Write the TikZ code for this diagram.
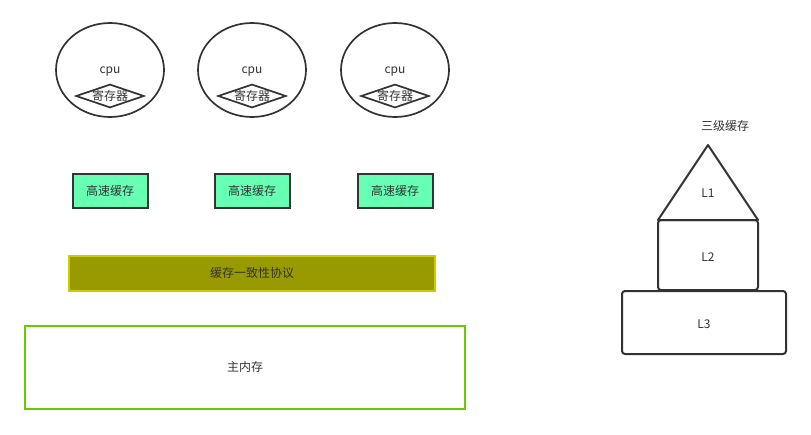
\documentclass[tikz,border=0pt]{standalone}
\usepackage{fontspec}
\setmainfont{Noto Sans CJK SC}
\usetikzlibrary{positioning, shapes.geometric}
\definecolor{txtGray}{RGB}{51, 51, 51}
\definecolor{cacheFill}{RGB}{102, 255, 179}
\definecolor{busFill}{RGB}{153, 153, 0}
\definecolor{busLine}{RGB}{204, 204, 0}
\definecolor{memLine}{RGB}{102, 204, 0}

\begin{document}
\begin{tikzpicture}[x=1pt, y=-1pt,
      every node/.style={font=\fontsize{12}{14}\selectfont, text=txtGray},
      core/.style={draw=txtGray, line width=1.7pt, ellipse, minimum width=108pt, minimum height=94pt},
      reg/.style={draw=txtGray, line width=1.7pt, diamond, aspect=2.9, inner sep=0pt,
                  minimum width=64pt, minimum height=23pt},
      cache/.style={draw=txtGray, line width=2pt, fill=cacheFill, minimum width=75pt, minimum height=34pt},
      level/.style={draw=txtGray, line width=2pt, rounded corners=3pt}]
    \useasboundingbox (0,0) rectangle (811,434);
    % cpus with registers and their caches
    \foreach \i/\x in {1/110, 2/252, 3/395} {
      \node[core]  (cpu\i)   at (\x, 70) {};
      \node        (name\i)  at (\x, 72) {cpu};
      \node[reg]   (reg\i)   at (\x, 96) {寄存器};
      \node[cache] (cache\i) at (\x, 191) {高速缓存};
    }
    % coherence bus and main memory
    \node[draw=busLine, line width=2pt, fill=busFill, minimum width=366pt,
          minimum height=35pt] (bus) at (252, 273) {缓存一致性协议};
    \node[draw=memLine, line width=2pt, minimum width=440pt,
          minimum height=83pt] (mem) at (245, 367) {主内存};
    % three level cache
    \coordinate (top) at (708, 145);
    \draw[txtGray, line width=2pt, line join=round] (658, 220) -- (top) -- (758, 220) -- cycle;
    \node (title) at (725, 126) {三级缓存};
    \node (l1) at (708, 193) {L1};
    \draw[level] (658, 220) rectangle (758, 290);
    \node (l2) at (708, 257) {L2};
    \draw[level] (622, 291) rectangle (786, 354);
    \node (l3) at (704, 324) {L3};
  \end{tikzpicture}
\end{document}
